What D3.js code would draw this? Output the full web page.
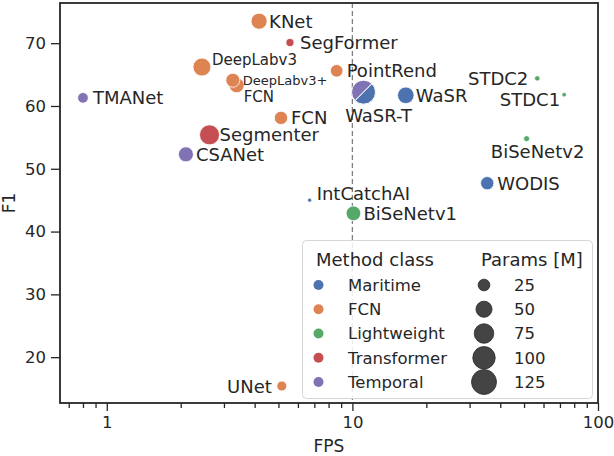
<!DOCTYPE html>
<html>
<head>
<meta charset="utf-8">
<script src="https://cdn.jsdelivr.net/npm/d3@7"></script>
<style>
  body { margin: 0; background: #fff; }
  text { font-family: "DejaVu Sans", sans-serif; fill: #262626; }
</style>
</head>
<body>
<div class="chart"></div>
<script>
// values
let methods = ['KNet', 'SegFormer', 'DeepLabv3', 'FCN', 'DeepLabv3+', 'TMANet', 'FCN', 'Segmenter',
  'CSANet', 'IntCatchAI', 'BiSeNetv1', 'PointRend', 'WaSR-T', 'WaSR', 'STDC2', 'STDC1', 'BiSeNetv2', 'WODIS', 'UNet'];
let methodClass = ['FCN', 'Transformer', 'FCN', 'FCN', 'FCN', 'Temporal', 'FCN', 'Transformer',
  'Temporal', 'Maritime', 'Lightweight', 'FCN', 'Temporal+Maritime', 'Maritime', 'Lightweight', 'Lightweight', 'Lightweight', 'Maritime', 'FCN'];
let fps = [4.17, 5.57, 2.44, 3.38, 3.26, 0.80, 5.12, 2.62, 2.10, 6.70, 10.1, 8.63, 11.1, 16.5, 56.6, 72.8, 51.2, 35.4, 5.16];
let f1 = [73.5, 70.1, 66.2, 63.3, 64.1, 61.3, 58.1, 55.4, 52.3, 45.0, 42.9, 65.6, 62.2, 61.7, 64.4, 61.8, 54.8, 47.7, 15.4];
let params = [50, 10, 63, 43, 37, 20, 33, 79, 43, 0.2, 41, 29, 115, 53, 2.7, 1, 4, 33, 17];

let classNames = ['Maritime', 'FCN', 'Lightweight', 'Transformer', 'Temporal'];
let sizeSteps = [25, 50, 75, 100, 125];
let xTicks = [1, 10, 100];
let yTicks = [20, 30, 40, 50, 60, 70];

// label placement: [dx, dy, anchor, font size]
let labelPos = {
  0: [10, 0, 'start', 18], 1: [10, 0, 'start', 18], 2: [10, -7, 'start', 15],
  3: [7, 11, 'start', 15], 4: [10, 0, 'start', 13], 5: [10, 0, 'start', 18],
  6: [10, 0, 'start', 18], 7: [10, 0, 'start', 18], 8: [10, 0, 'start', 18],
  9: [7, -7, 'start', 18], 10: [10, 0, 'start', 18], 11: [10, 0, 'start', 18],
  12: [15, 23, 'middle', 18], 13: [10, 0, 'start', 18], 14: [-9, 0, 'end', 18],
  15: [-4, 5, 'end', 18], 16: [11, 13, 'middle', 18], 17: [10, 0, 'start', 18],
  18: [-10, 0, 'end', 18]
};

let W = 614, H = 456;
let pLeft = 60, pRight = 598, pTop = 3, pBottom = 403;

let svg = d3.select('.chart')
  .append('svg')
  .attr('width', W)
  .attr('height', H);

let x = d3.scaleLog().domain([0.645, 100]).range([pLeft, pRight]);
let y = d3.scaleLinear().domain([12.7, 76.4]).range([pBottom, pTop]);
let area = d3.scaleLinear().domain([0, 125]).range([4, 156]);
let rad = p => Math.sqrt(area(p));

let color = d3.scaleOrdinal()
  .domain(classNames)
  .range(['#4C72B0', '#DD8452', '#55A868', '#C44E52', '#8172B3']);

// axes
let minor = [];
[0.1, 1, 10].forEach(d => { for (let k = 2; k < 10; k++) minor.push(+(d * k).toFixed(2)); });
minor = minor.filter(v => v >= 0.645 && v <= 100);

let xAxis = svg.append('g')
  .attr('transform', `translate(0,${pBottom})`)
  .call(d3.axisBottom(x).tickValues(xTicks).tickFormat(d3.format('d')).tickSize(8).tickPadding(5));
let xMinor = svg.append('g')
  .attr('transform', `translate(0,${pBottom})`)
  .call(d3.axisBottom(x).tickValues(minor).tickFormat('').tickSize(5));
let yAxis = svg.append('g')
  .attr('transform', `translate(${pLeft},0)`)
  .call(d3.axisLeft(y).tickValues(yTicks).tickSize(9).tickPadding(5));

[xAxis, xMinor, yAxis].forEach(g => {
  g.select('.domain').remove();
  g.selectAll('line').attr('stroke', '#262626').attr('stroke-width', 1.3);
  g.selectAll('text').attr('font-size', 16.5).style('fill', '#262626');
});

// dashed line at 10 FPS
svg.append('line')
  .attr('x1', x(10)).attr('x2', x(10))
  .attr('y1', pTop).attr('y2', pBottom)
  .attr('stroke', '#808080')
  .attr('stroke-width', 1.3)
  .attr('stroke-dasharray', '5,3');

// points
let pts = svg.append('g');
methods.forEach((m, i) => {
  let cx = x(fps[i]), cy = y(f1[i]), r = rad(params[i]);
  if (methodClass[i].indexOf('+') > 0) {
    let parts = methodClass[i].split('+');
    let arc = d3.arc().innerRadius(0).outerRadius(r);
    pts.append('path')
      .attr('d', arc({ startAngle: 5 * Math.PI / 4, endAngle: 9 * Math.PI / 4 }))
      .attr('fill', color(parts[0]))
      .attr('stroke', '#fff').attr('stroke-width', 1)
      .attr('transform', `translate(${cx},${cy})`);
    pts.append('path')
      .attr('d', arc({ startAngle: Math.PI / 4, endAngle: 5 * Math.PI / 4 }))
      .attr('fill', color(parts[1]))
      .attr('stroke', '#fff').attr('stroke-width', 1)
      .attr('transform', `translate(${cx},${cy})`);
  } else {
    pts.append('circle')
      .attr('cx', cx).attr('cy', cy).attr('r', r)
      .attr('fill', color(methodClass[i]))
      .attr('stroke', '#fff').attr('stroke-width', 0.8);
  }
});

// labels
methods.forEach((m, i) => {
  let p = labelPos[i];
  svg.append('text')
    .attr('x', x(fps[i]) + p[0])
    .attr('y', y(f1[i]) + p[1])
    .attr('dy', '0.36em')
    .attr('text-anchor', p[2])
    .attr('font-size', p[3])
    .text(m);
});

// frame
svg.append('rect')
  .attr('x', pLeft).attr('y', pTop)
  .attr('width', pRight - pLeft).attr('height', pBottom - pTop)
  .attr('fill', 'none')
  .attr('stroke', '#262626')
  .attr('stroke-width', 1.8);

// axis labels
svg.append('text')
  .attr('x', (pLeft + pRight) / 2).attr('y', 452)
  .attr('text-anchor', 'middle').attr('font-size', 17)
  .text('FPS');
svg.append('text')
  .attr('transform', `translate(15,${(pTop + pBottom) / 2}) rotate(-90)`)
  .attr('text-anchor', 'middle').attr('font-size', 17)
  .text('F1');

// legend
let lg = svg.append('g');
lg.append('rect')
  .attr('x', 302.5).attr('y', 240.5)
  .attr('width', 290).attr('height', 158)
  .attr('rx', 4)
  .attr('fill', 'rgba(255,255,255,0.85)')
  .attr('stroke', '#d6d6d6')
  .attr('stroke-width', 1);

lg.append('text').attr('x', 316).attr('y', 260).attr('dy', '0.36em')
  .attr('font-size', 18).text('Method class');
lg.append('text').attr('x', 481).attr('y', 260).attr('dy', '0.36em')
  .attr('font-size', 18).text('Params [M]');

let rowY = d3.scaleLinear().domain([0, 4]).range([285, 382]);

classNames.forEach((c, i) => {
  lg.append('circle')
    .attr('cx', 318.5).attr('cy', rowY(i)).attr('r', 5)
    .attr('fill', color(c));
  lg.append('text')
    .attr('x', 348).attr('y', rowY(i)).attr('dy', '0.36em')
    .attr('font-size', 16.5).text(c);
});

sizeSteps.forEach((s, i) => {
  lg.append('circle')
    .attr('cx', 484).attr('cy', rowY(i)).attr('r', rad(s))
    .attr('fill', '#444')
    .attr('stroke', '#2a2a2a').attr('stroke-width', 0.8);
  lg.append('text')
    .attr('x', 514).attr('y', rowY(i)).attr('dy', '0.36em')
    .attr('font-size', 16.5).text(s);
});
</script>
</body>
</html>
